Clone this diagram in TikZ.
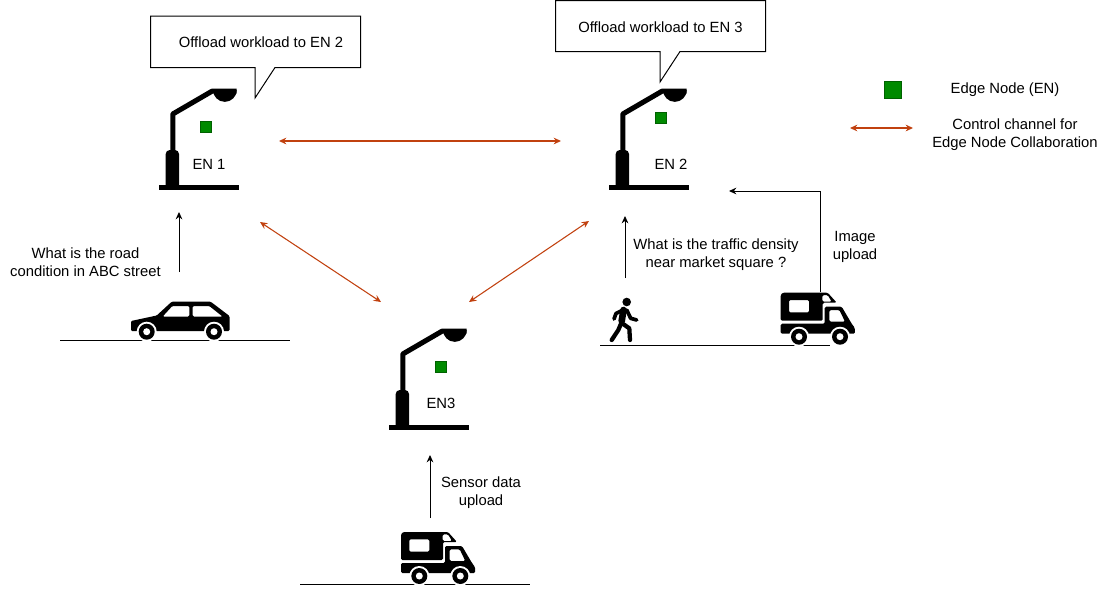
\documentclass[tikz,border=0pt]{standalone}
\usepackage{fontspec}
\setmainfont{Liberation Sans}
\usetikzlibrary{arrows.meta}
\definecolor{chancolor}{HTML}{C1410F}
\definecolor{encolor}{HTML}{008A00}
\tikzset{
	label/.style = {font=\fontsize{11.1}{13.5}\selectfont, align=center, inner sep=0pt},
	chan/.style = {draw=chancolor, line width=.8pt, {Stealth[length=5.5pt,width=5pt]}-{Stealth[length=5.5pt,width=5pt]}},
	send/.style = {draw=black, line width=.75pt, -{Stealth[length=5.5pt,width=5pt]}},
	ground/.style = {draw=black, line width=.75pt},
	callout/.style = {draw=black, fill=white, line width=.75pt},
	ensquare/.style = {draw=encolor!70!black, fill=encolor, line width=.3pt},
	pics/lamp/.style = {code = {
		\fill (.5,96.5) rectangle (81,102);
		\fill[rounded corners=3pt] (7.7,98) -- (7.7,62) -- (21,62) -- (21,98);
		\fill (7.7,90) rectangle (21,98);
		\draw[line width=3.8pt, line join=round] (14.8,64) -- (14.8,26) -- (54,3.2) -- (78.7,3.2);
		\fill (55,2) -- (78.7,2) arc (0:180:11.85) -- cycle;
	}},
	pics/car/.style = {code = {
		\fill[even odd rule, rounded corners=.8pt] (131,321) -- (156.7,315.5) -- (171.7,301.7) -- (210.7,301.7) -- (229.5,316) -- (229.5,331) -- (131,331) -- cycle
			(162.7,316.5) -- (172.3,306) -- (189.3,306) -- (189.3,316.5) -- cycle
			(192.7,316.5) -- (192.7,306) -- (209.3,306) -- (222.5,316.5) -- cycle;
		\foreach \wheelx in {146.7,214} {
			\fill[white] (\wheelx,331.7) circle (10);
			\fill (\wheelx,331.7) circle (8);
			\fill[white] (\wheelx,331.7) circle (3.5);
		}
	}},
	pics/van/.style = {code = {
		\fill[even odd rule, rounded corners=1pt] (0,2) -- (2,0) -- (47,0) -- (56,10) -- (42,10) -- (42,28) -- (0,28) -- cycle
			(8.3,7.3) rectangle (28.3,19.7)
			(41.7,2.3) -- (47,2.3) -- (51,9) -- (41.7,9) -- cycle;
		\fill[even odd rule, rounded corners=1pt] (0,31) -- (44,31) -- (44,14) -- (61,14) -- (71,31) -- (74,35) -- (74.3,41) -- (0,41) -- cycle
			(48.7,17.3) -- (58.7,17.3) -- (64.3,29) -- (48.7,29) -- cycle;
		\foreach \wheelx in {18.3,59.3} {
			\fill[white] (\wheelx,44) circle (10);
			\fill (\wheelx,44) circle (8);
			\fill[white] (\wheelx,44) circle (3.5);
		}
	}},
	pics/walker/.style = {code = {
		\fill (16.7,4) circle (4.3);
		\draw[line width=5pt, line cap=round] (13.5,12) -- (11.7,23);
		\draw[line width=2.8pt, line cap=round, line join=round] (13,12) -- (6,15.5) -- (4,21);
		\draw[line width=2.8pt, line cap=round, line join=round] (16.7,12) -- (20.7,20.3) -- (26.7,22);
		\draw[line width=3.2pt, line cap=round, line join=round] (11.7,24) -- (8.3,32) -- (1.7,42);
		\draw[line width=3.2pt, line cap=round, line join=round] (11.7,25) -- (19.3,30.3) -- (20,42);
	}},
}
\begin{document}
\begin{tikzpicture}[x=.75pt, y=-.75pt]
		\useasboundingbox (0,0) rectangle (1106,593);
		% street furniture
		\pic at (158,88) {lamp};
		\pic at (608,88) {lamp};
		\pic at (388,328) {lamp};
		\draw[ground] (60,340) -- (290,340);
		\draw[ground] (600,345) -- (830,345);
		\draw[ground] (300,584) -- (530,584);
		\pic {car};
		\pic at (610,298) {walker};
		\pic at (780.7,292.7) {van};
		\pic at (401,532) {van};
		% edge nodes
		\node (enonebox) at (205.5,126.5) [ensquare, minimum size=8.2pt, inner sep=0pt] {};
		\node (entwobox) at (660.5,117.5) [ensquare, minimum size=8.2pt, inner sep=0pt] {};
		\node (enthreebox) at (440.5,366.5) [ensquare, minimum size=8.2pt, inner sep=0pt] {};
		\node (enone) at (209,164) [label] {EN 1};
		\node (entwo) at (671,164) [label] {EN 2};
		\node (enthree) at (441,403) [label] {EN3};
		% speech bubbles
		\draw[callout] (150.5,16) -- (360.5,16) -- (360.5,67.5) -- (275,67.5) -- (255,98) -- (255,67.5) -- (150.5,67.5) -- cycle;
		\draw[callout] (555.5,.5) -- (765.5,.5) -- (765.5,51.5) -- (680,51.5) -- (660,82) -- (660,51.5) -- (555.5,51.5) -- cycle;
		\node (bubbleone) at (261,42) [label] {Offload workload to EN 2};
		\node (bubbletwo) at (660.5,27) [label] {Offload workload to EN 3};
		% control channels
		\coordinate (onee) at (279,141);
		\coordinate (twow) at (561,141);
		\coordinate (ones) at (260,222);
		\coordinate (threenw) at (381,302);
		\coordinate (twos) at (589,221);
		\coordinate (threene) at (469,302);
		\draw[chan] (onee) -- (twow);
		\draw[chan] (ones) -- (threenw);
		\draw[chan] (twos) -- (threene);
		% requests and uploads
		\coordinate (carup) at (179,272);
		\coordinate (onein) at (179,212);
		\coordinate (walkerup) at (625,278);
		\coordinate (twoin) at (625,216);
		\coordinate (vanup) at (820,292);
		\coordinate (vanbend) at (820,191);
		\coordinate (twovan) at (729,191);
		\coordinate (lowvanup) at (430,518);
		\coordinate (threein) at (430,455);
		\draw[send] (carup) -- (onein);
		\draw[send] (walkerup) -- (twoin);
		\draw[send] (vanup) -- (vanbend) -- (twovan);
		\draw[send] (lowvanup) -- (threein);
		\node (roadtext) at (85.5,262) [label] {What is the road \\ condition in ABC street};
		\node (traffictext) at (716,255) [label] {What is the traffic density \\ near market square ?};
		\node (imagetext) at (855,247) [label] {Image \\ upload};
		\node (sensortext) at (481,493) [label] {Sensor data \\ upload};
		% legend
		\node (legendbox) at (892.5,89.5) [ensquare, minimum size=12.4pt, inner sep=0pt] {};
		\node (legendtext) at (1005,90) [label] {Edge Node (EN)};
		\coordinate (legendl) at (850,128);
		\coordinate (legendr) at (913,128);
		\draw[chan] (legendl) -- (legendr);
		\node (chantext) at (1015,135) [label] {Control channel for \\ Edge Node Collaboration};
\end{tikzpicture}
\end{document}
